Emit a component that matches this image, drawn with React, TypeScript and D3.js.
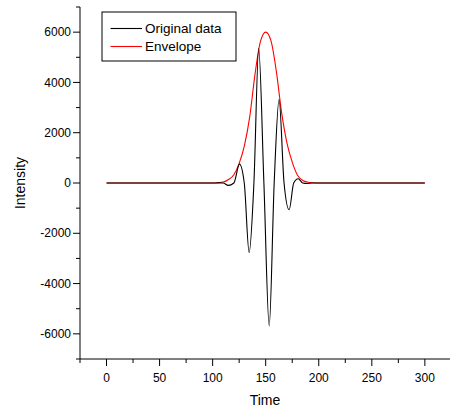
import React from "react";
import * as d3 from "d3";

const timeOrig = [0, 100, 105, 110, 114.7, 120, 125.3, 129.8, 134.4, 138.9, 143.4, 148.3, 153.3, 158, 162.6, 167.3, 172.1, 176.4, 180.6, 185, 189, 194, 200, 300];
const intensityOrig = [0, 0, 5, 0, -95, 0, 750, 0, -2765, 0, 5350, 0, -5685, 0, 3318, 0, -1064, 0, 170, 0, -20, 0, 0, 0];

const timeEnv = [0, 100, 105, 110, 115, 120, 125, 130, 135, 140, 145, 150, 155, 160, 165, 170, 175, 180, 185, 190, 195, 200, 300];
const envValues = [0, 0, 15, 40, 140, 330, 780, 1500, 2650, 4350, 5620, 6000, 5650, 4450, 2800, 1600, 830, 310, 100, 30, 8, 0, 0];

const xMajor = [0, 50, 100, 150, 200, 250, 300];
const xMinor = [-25, 25, 75, 125, 175, 225, 275, 325];
const yMajor = [-6000, -4000, -2000, 0, 2000, 4000, 6000];
const yMinor = [-7000, -5000, -3000, -1000, 1000, 3000, 5000, 7000];

const seriesNames = ["Original data", "Envelope"];

export default function App() {
  const W = 450, H = 413;
  const x = d3.scaleLinear().domain([-25, 325]).range([80, 451.4]);
  const y = d3.scaleLinear().domain([-7000, 7000]).range([359, 7]);

  const origPts = timeOrig.map((t, i) => [t, intensityOrig[i]] as [number, number]);
  const envPts = timeEnv.map((t, i) => [t, envValues[i]] as [number, number]);
  const line = d3.line<[number, number]>().x(d => x(d[0])).y(d => y(d[1])).curve(d3.curveMonotoneX);

  const font = "'Liberation Sans', Arial, sans-serif";

  return (
    <svg width={W} height={H} style={{ position: "absolute", left: 0, top: 0, background: "#fff" }} fontFamily={font}>
      <rect x={0} y={0} width={W} height={H} fill="#fff" />
      <path d={line(envPts) || ""} fill="none" stroke="#ff0000" strokeWidth={1.1} />
      <path d={line(origPts) || ""} fill="none" stroke="#000" strokeWidth={1.1} />
      {/* axes */}
      <line x1={80} x2={80} y1={7} y2={359} stroke="#000" strokeWidth={1} />
      <line x1={80} x2={451} y1={359} y2={359} stroke="#000" strokeWidth={1} />
      {yMajor.map(v => (
        <g key={"ym" + v}>
          <line x1={73} x2={80} y1={y(v)} y2={y(v)} stroke="#000" />
          <text x={71} y={y(v)} dy="0.35em" textAnchor="end" fontSize={12} fill="#000">{v}</text>
        </g>
      ))}
      {yMinor.map(v => (
        <line key={"yn" + v} x1={76} x2={80} y1={y(v)} y2={y(v)} stroke="#000" />
      ))}
      {xMajor.map(v => (
        <g key={"xm" + v}>
          <line x1={x(v)} x2={x(v)} y1={359} y2={366} stroke="#000" />
          <text x={x(v)} y={382} textAnchor="middle" fontSize={12} fill="#000">{v}</text>
        </g>
      ))}
      {xMinor.map(v => (
        <line key={"xn" + v} x1={x(v)} x2={x(v)} y1={359} y2={363} stroke="#000" />
      ))}
      <text x={265} y={405} textAnchor="middle" fontSize={14} fill="#000">Time</text>
      <text transform={`translate(25,183) rotate(-90)`} textAnchor="middle" fontSize={14} fill="#000">Intensity</text>
      {/* legend */}
      <rect x={102} y={12} width={134} height={49} fill="#fff" stroke="#000" strokeWidth={1} />
      <line x1={110.5} x2={142} y1={28.5} y2={28.5} stroke="#000" strokeWidth={1.1} />
      <line x1={110.5} x2={142} y1={46.5} y2={46.5} stroke="#ff0000" strokeWidth={1.1} />
      <text x={145} y={28.5} dy="0.35em" fontSize={13.5} fill="#000">{seriesNames[0]}</text>
      <text x={145} y={46.5} dy="0.35em" fontSize={13.5} fill="#000">{seriesNames[1]}</text>
    </svg>
  );
}
